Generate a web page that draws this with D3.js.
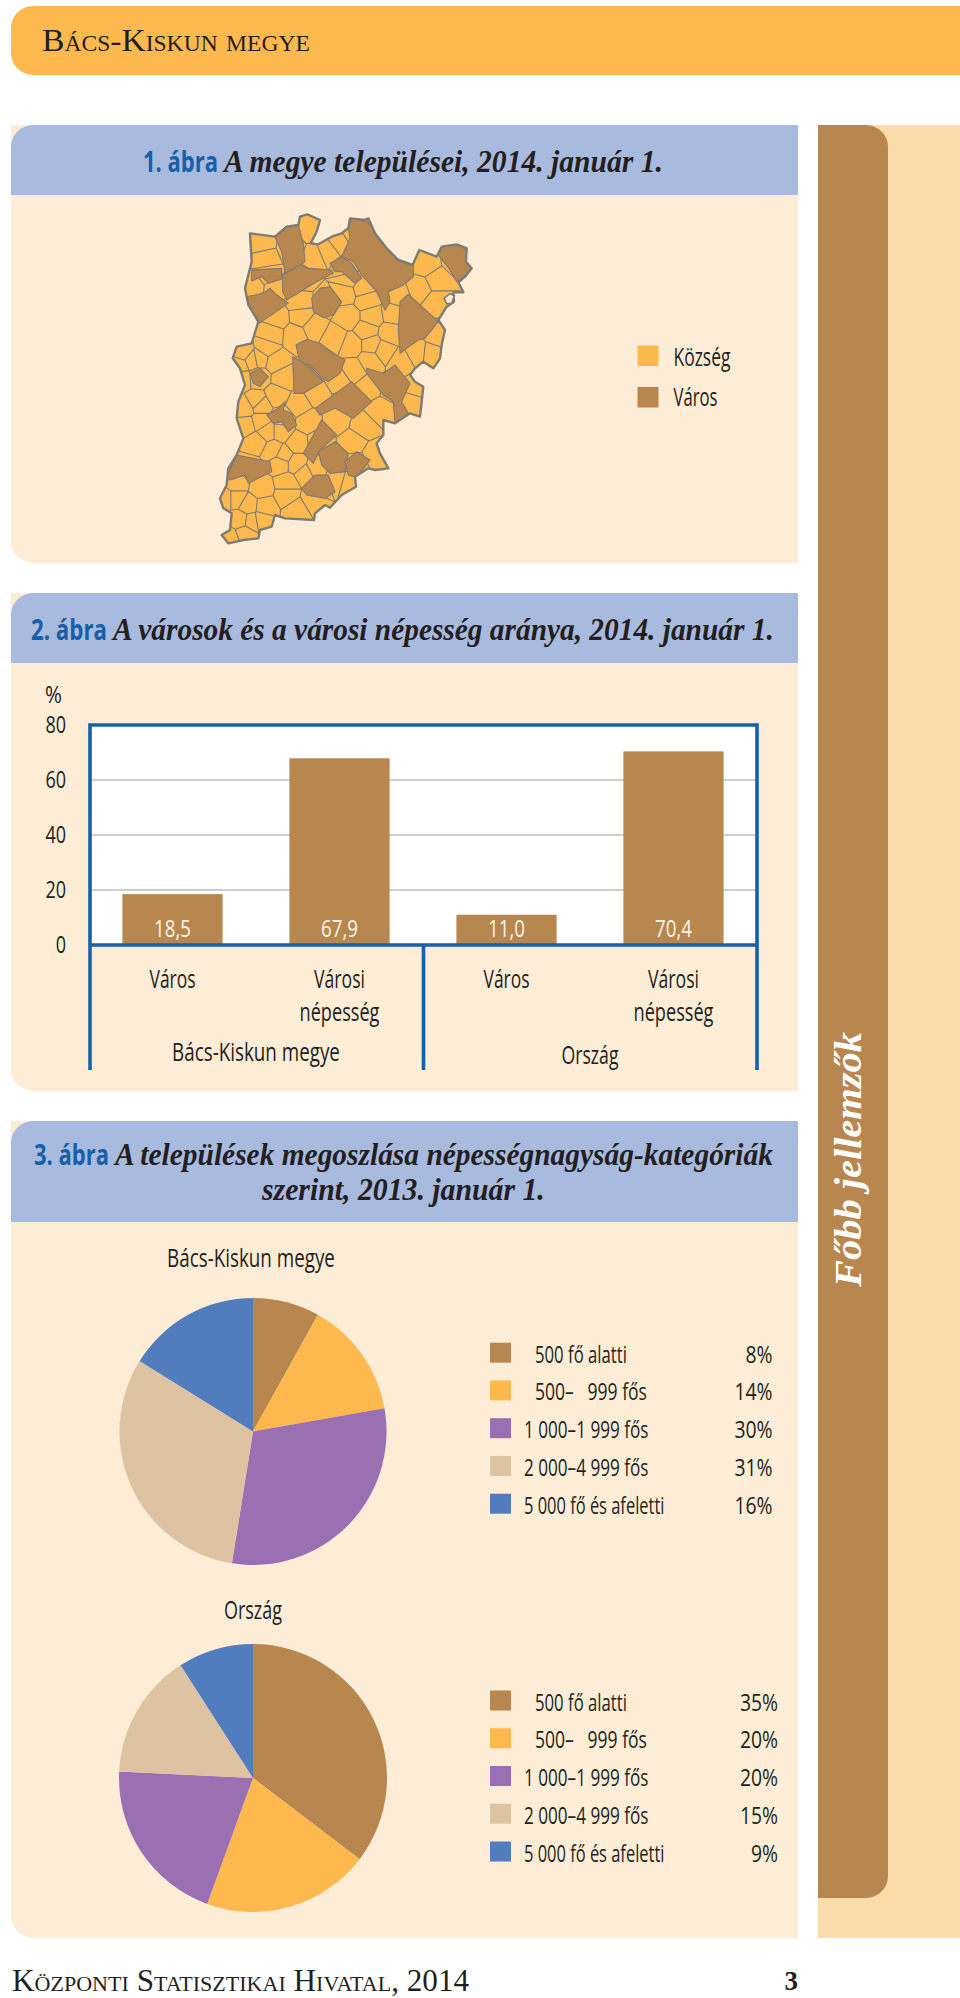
<!DOCTYPE html>
<html lang="hu"><head><meta charset="utf-8">
<script src="https://cdnjs.cloudflare.com/ajax/libs/d3/7.8.5/d3.min.js"></script>
<style>html,body{margin:0;padding:0;background:#fff}svg{display:block}</style></head>
<body><svg id="c" width="960" height="1998"></svg>
<script>
// ---------- data ----------
const barCategories=["Város","Városi népesség","Város ","Városi népesség "];
const barValues=[18.5,67.9,11.0,70.4];
const barLabels=["18,5","67,9","11,0","70,4"];
const yTicks=[0,20,40,60,80];
const pieCategories=["500 fő alatti","500–   999 fős","1 000–1 999 fős","2 000–4 999 fős","5 000 fő és afeletti"];
const pieCounty=[8,14,30,31,16];
const pieCountry=[35,20,20,15,9];
const mapLegend=["Község","Város"];
// map shapes, in map units
const mapOutline=[[240,35],[262,28],[300,45],[290,80],[272,115],[295,118],[335,95],[365,85],[385,70],[390,40],[432,45],[445,40],[465,85],[500,130],[535,165],[578,180],[598,135],[650,155],[665,125],[710,118],[740,130],[738,170],[755,190],[735,215],[715,232],[730,262],[700,262],[702,290],[680,305],[655,345],[675,375],[665,420],[660,460],[640,490],[610,470],[585,490],[570,510],[585,530],[610,545],[605,590],[600,635],[570,625],[525,655],[490,645],[490,690],[470,715],[480,745],[505,790],[465,795],[445,790],[405,815],[408,845],[365,870],[330,908],[315,900],[285,925],[282,945],[195,940],[165,930],[155,965],[120,975],[115,1000],[70,1005],[25,1015],[5,990],[30,975],[35,925],[10,910],[0,880],[20,840],[25,790],[50,750],[70,700],[50,640],[55,590],[75,540],[60,490],[38,460],[50,425],[95,415],[115,350],[85,300],[75,250],[95,170],[90,85],[165,95],[200,65],[235,60]];
const mapTowns=[
[[165,95],[205,60],[235,60],[250,115],[255,170],[240,180],[195,205],[185,140]],
[[188,210],[240,180],[265,190],[335,195],[340,205],[290,230],[200,285],[188,260]],
[[95,195],[185,190],[185,222],[145,235],[125,215],[95,228]],
[[80,275],[130,265],[150,250],[165,265],[205,295],[118,355],[90,310]],
[[365,155],[390,100],[385,70],[390,35],[435,40],[470,85],[505,130],[535,160],[580,180],[580,215],[550,240],[505,260],[510,290],[495,315],[470,260],[425,210],[400,170]],
[[330,175],[365,155],[395,175],[425,220],[405,235],[365,200],[345,200]],
[[275,280],[300,250],[330,245],[365,290],[340,330],[310,338],[280,320]],
[[540,290],[565,268],[655,350],[615,400],[595,405],[560,430],[540,445],[535,375]],
[[655,150],[665,120],[710,115],[745,130],[738,170],[760,190],[735,220],[710,230],[690,195]],
[[228,420],[260,403],[300,415],[330,440],[375,465],[360,505],[325,530],[305,520],[270,480],[240,475]],
[[218,455],[245,470],[270,490],[310,530],[250,565],[222,565]],
[[90,505],[120,490],[145,515],[120,545],[100,535]],
[[440,490],[490,505],[525,480],[570,535],[545,590],[565,625],[525,655],[520,590],[490,570],[440,505]],
[[285,610],[395,530],[455,590],[400,640],[345,610],[300,630]],
[[140,630],[175,610],[195,590],[190,615],[215,625],[230,660],[205,680],[185,650],[160,655]],
[[250,745],[305,645],[350,690],[300,735],[280,775]],
[[295,740],[345,710],[385,745],[375,800],[330,805],[305,780]],
[[375,770],[410,740],[450,765],[410,818],[385,810]],
[[20,815],[50,750],[150,770],[155,800],[85,835],[75,810],[30,825]],
[[245,850],[285,810],[325,810],[345,860],[315,880],[260,870]]
];
const mapVillages=[[265,70],[125,115],[135,160],[100,240],[165,245],[285,155],[320,140],[360,110],[395,88],[620,180],[600,250],[650,225],[650,290],[535,275],[520,325],[385,220],[430,250],[440,285],[375,265],[240,290],[170,340],[245,335],[155,385],[225,390],[280,365],[345,400],[385,335],[440,375],[455,335],[510,385],[455,420],[395,420],[490,435],[450,465],[545,470],[590,445],[635,450],[655,390],[400,495],[355,525],[445,550],[290,565],[235,600],[265,650],[350,645],[430,665],[480,615],[575,595],[590,545],[400,710],[465,750],[185,680],[160,735],[230,715],[190,750],[180,775],[230,775],[255,805],[285,790],[350,825],[385,835],[125,850],[200,835],[200,870],[280,885],[230,915],[135,905],[50,835],[50,880],[85,900],[15,880],[60,945],[95,950],[30,1000],[75,985],[125,945],[70,445],[60,480],[165,470],[140,430],[190,520],[170,570],[110,590],[75,610],[120,600],[80,660],[120,650],[110,710],[140,680],[65,520],[95,465],[120,460]];
const mapLake=[[672,280],[690,266],[703,272],[695,295],[680,296]];

// ---------- palette ----------
const C={orange:"#FDB94D",brown:"#B8864F",header:"#A9BADF",body:"#FDEDD6",strip:"#FDDCAC",blue:"#1560A8",purple:"#9B70B2",tan:"#DEC3A3",pieBlue:"#517DBF",ink:"#231F20",border:"#7F7A72"};
const pieColors=[C.brown,C.orange,C.purple,C.tan,C.pieBlue];
const SANS="'Open Sans',sans-serif",SERIF="'Liberation Serif',serif";
const COND=0.72;

const svg=d3.select("#c");
function roundPath(x0,y0,x1,y1,tl,tr,br,bl){
  const p=d3.path();
  p.moveTo(x0+tl,y0);p.lineTo(x1-tr,y0);
  if(tr)p.arcTo(x1,y0,x1,y0+tr,tr);
  p.lineTo(x1,y1-br);
  if(br)p.arcTo(x1,y1,x1-br,y1,br);
  p.lineTo(x0+bl,y1);
  if(bl)p.arcTo(x0,y1,x0,y1-bl,bl);
  p.lineTo(x0,y0+tl);
  if(tl)p.arcTo(x0,y0,x0+tl,y0,tl);
  p.closePath();return p.toString();
}
function shape(x0,y0,x1,y1,fill,tl=0,tr=0,br=0,bl=0){svg.append("path").attr("d",roundPath(x0,y0,x1,y1,tl,tr,br,bl)).attr("fill",fill);}
// text: opt.fit squeezes to a target width; otherwise opt.k is a horizontal factor
function txt(x,y,s,opt={}){
  const o=Object.assign({size:25,font:SANS,fill:C.ink,anchor:"start",k:COND,weight:400,style:"normal",variant:"normal",rotate:0},opt);
  const t=svg.append("text").text(s).attr("font-family",o.font).attr("font-size",o.size).attr("fill",o.fill)
    .attr("font-weight",o.weight).attr("font-style",o.style).attr("font-variant",o.variant).attr("text-anchor",o.anchor)
    .style("white-space","pre").attr("xml:space","preserve");
  let k=o.k; if(o.fit)k=o.fit/t.node().getComputedTextLength();
  t.attr("transform",`translate(${x},${y})`+(o.rotate?` rotate(${o.rotate})`:"")+` scale(${k},1)`);
  return t;
}
function title(prefix,px,pw,rest,rx,rw,y){
  txt(px,y,prefix,{size:29,weight:700,fill:C.blue,fit:pw});
  txt(rx,y,rest,{size:31,font:SERIF,style:"italic",weight:700,fit:rw});
}

// ---------- page furniture ----------
shape(11,6,960,75,C.orange,22,0,0,22);
txt(42,51,"Bács-Kiskun megye",{size:32,font:SERIF,variant:"small-caps",fit:264});
shape(818,125,960,1938,C.strip);
shape(818,125,888,1898,C.brown,0,22,22,0);
txt(861,1287,"Főbb jellemzők",{size:37,font:SERIF,weight:700,style:"italic",fill:"#FFFFFF",rotate:-90,fit:255});

shape(11,125,798,563,C.body,0,0,0,22);
shape(11,125,798,195,C.header,22,0,0,0);
title("1. ábra",143,75,"A megye települései, 2014. január 1.",224,439,172);

shape(11,593,798,1091,C.body,0,0,0,22);
shape(11,593,798,663,C.header,22,0,0,0);
title("2. ábra",31,76,"A városok és a városi népesség aránya, 2014. január 1.",113,661,640);

shape(11,1121,798,1938,C.body,0,0,0,22);
shape(11,1121,798,1222,C.header,22,0,0,0);
title("3. ábra",34,75,"A települések megoszlása népességnagyság-kategóriák",115,658,1165);
txt(262,1200,"szerint, 2013. január 1.",{size:31,font:SERIF,style:"italic",weight:700,fit:283});

txt(12,1991,"Központi Statisztikai Hivatal, 2014",{size:31,font:SERIF,variant:"small-caps",fit:458});
txt(798,1990,"3",{size:27,font:SERIF,weight:700,anchor:"end",k:1});

// ---------- map ----------
const mx=d3.scaleLinear().domain([0,810]).range([220,490]);
const my=d3.scaleLinear().domain([0,1050]).range([205,555]);
const poly=d3.line().x(d=>mx(d[0])).y(d=>my(d[1])).curve(d3.curveLinearClosed);
svg.append("clipPath").attr("id","mapclip").append("path").attr("d",poly(mapOutline));
const map=svg.append("g");
map.append("path").attr("d",poly(mapOutline)).attr("fill",C.orange);
const sites=mapVillages.concat(mapTowns.map(d3.polygonCentroid));
const vor=d3.Delaunay.from(sites,d=>mx(d[0]),d=>my(d[1])).voronoi([200,190,500,570]);
map.append("path").attr("d",vor.render()).attr("clip-path","url(#mapclip)").attr("fill","none").attr("stroke",C.border).attr("stroke-width",1.1);
map.selectAll("path.town").data(mapTowns).join("path").attr("class","town").attr("d",poly)
  .attr("clip-path","url(#mapclip)").attr("fill",C.brown).attr("stroke",C.border).attr("stroke-width",1.1);
map.append("path").attr("d",poly(mapOutline)).attr("fill","none").attr("stroke",C.border).attr("stroke-width",2.4).attr("stroke-linejoin","round");
map.append("path").attr("d",poly(mapLake)).attr("fill",C.body).attr("stroke",C.border).attr("stroke-width",1.6);
mapLegend.forEach((s,i)=>{
  svg.append("rect").attr("x",637.5).attr("y",i?387:345.5).attr("width",21).attr("height",20.5).attr("fill",i?C.brown:C.orange);
  txt(673.5,i?406:365.5,s,{fit:i?44:57});
});

// ---------- bar chart ----------
const x=d3.scaleBand().domain(barCategories).range([89,757]).paddingInner(0.4).paddingOuter(0.2);
const y=d3.scaleLinear().domain([0,80]).range([945,725]);
svg.append("rect").attr("x",90).attr("y",725).attr("width",667).attr("height",220).attr("fill","#fff");
svg.selectAll("line.grid").data(yTicks.filter(d=>d>0&&d<80)).join("line").attr("class","grid")
  .attr("x1",90).attr("x2",757).attr("y1",y).attr("y2",y).attr("stroke","#9E9E9E").attr("stroke-width",1.2);
svg.selectAll("rect.bar").data(barValues).join("rect").attr("class","bar")
  .attr("x",(d,i)=>x(barCategories[i])).attr("width",x.bandwidth()).attr("y",d=>y(d)).attr("height",d=>y(0)-y(d)).attr("fill",C.brown);
const axis=d3.axisLeft(y).tickValues(yTicks).tickSize(0).tickPadding(0);
const ag=svg.append("g").attr("transform","translate(66,0)").call(axis);
ag.select(".domain").remove();
ag.selectAll("text").each(function(d){
  d3.select(this).attr("font-family",SANS).attr("font-size",24).attr("fill",C.ink).attr("text-anchor","end")
    .attr("dy",null).attr("y",0).attr("x",0).attr("transform",`translate(0,${y(d)+7.5}) scale(0.75,1)`);
  d3.select(this.parentNode).attr("transform",null);
});
txt(45,702.5,"%",{size:24,fit:17});
barLabels.forEach((s,i)=>txt(x(barCategories[i])+x.bandwidth()/2,937,s,{size:24,anchor:"middle",fill:"#FFF6E8",fit:37}));
svg.append("path").attr("fill","none").attr("stroke",C.blue).attr("stroke-width",3.6)
  .attr("d",`M90,1070V725H757V1070M90,945H757M423.5,945V1070`);
barCategories.forEach((c,i)=>{
  const cx=x(c)+x.bandwidth()/2, parts=c.trim().split(" ");
  txt(cx,988,parts[0],{anchor:"middle",fit:parts[0]==="Város"?46:51});
  if(parts[1])txt(cx,1021,parts[1],{anchor:"middle",fit:80});
});
txt(256,1061,"Bács-Kiskun megye",{anchor:"middle",fit:168});
txt(590,1064,"Ország",{anchor:"middle",fit:57});

// ---------- pies ----------
function pieChart(values,cx,cy,r,legendTop,pctRight){
  const arcs=d3.pie().sort(null)(values);
  const arc=d3.arc().innerRadius(0).outerRadius(r);
  svg.append("g").attr("transform",`translate(${cx},${cy})`).selectAll("path").data(arcs).join("path")
    .attr("d",arc).attr("fill",(d,i)=>pieColors[i]);
  const ly=d3.scalePoint().domain(pieCategories).range([legendTop,legendTop+151]);
  const widths=[92,112,124.5,124.5,140.5];
  pieCategories.forEach((c,i)=>{
    const yy=ly(c);
    svg.append("rect").attr("x",490).attr("y",yy-10).attr("width",21).attr("height",20).attr("fill",pieColors[i]);
    txt(i<2?535:524,yy+10,c,{size:24.5,fit:widths[i]});
    txt(pctRight,yy+10,values[i]+"%",{size:24.5,anchor:"end",k:0.79});
  });
}
txt(251,1267,"Bács-Kiskun megye",{anchor:"middle",fit:168});
pieChart(pieCounty,253,1431.5,133.5,1352.7,772.5);
txt(253,1619,"Ország",{anchor:"middle",fit:58});
pieChart(pieCountry,253,1778,134,1700.5,778);
</script></body></html>
